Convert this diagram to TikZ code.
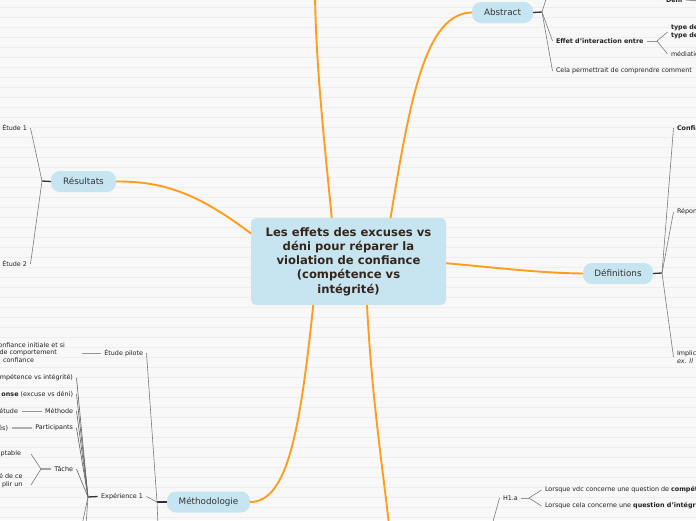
\documentclass[tikz,border=0pt]{standalone}
\usepackage{fontspec}
\setmainfont{DejaVu Sans}
\definecolor{paper}{HTML}{F8F8F8}
\definecolor{ruleline}{HTML}{EEEEEE}
\definecolor{topicblue}{HTML}{C6E5F0}
\definecolor{branchorange}{HTML}{FF9D1C}
\definecolor{titletext}{HTML}{35251A}
\definecolor{topictext}{HTML}{333333}
\definecolor{leaftext}{HTML}{222222}
\definecolor{twiggray}{HTML}{7B7B7B}
\definecolor{stubdark}{HTML}{333333}
\begin{document}
\begin{tikzpicture}[x=1pt,y=-1pt,
  title/.style={fill=topicblue,rounded corners=5pt,inner sep=0pt,outer sep=0pt,
    minimum width=195pt,minimum height=87pt,align=center,text=titletext,
    font=\bfseries\fontsize{11.6}{14.3}\selectfont},
  topic/.style={fill=topicblue,rounded corners=9pt,inner sep=0pt,outer sep=0pt,
    minimum height=21pt,text=topictext,font=\fontsize{8.8}{10}\selectfont},
  leaf/.style={inner sep=0pt,outer sep=3.5pt,text=leaftext,
    font=\fontsize{6.4}{8}\selectfont},
  branch/.style={draw=branchorange,line width=1.9pt},
  twig/.style={draw=twiggray,line width=0.6pt},
  stub/.style={draw=stubdark,line width=1.3pt},
  softstub/.style={draw=twiggray!80,line width=1pt}]
  % background
  \useasboundingbox (0,0) rectangle (696,520);
  \clip (0,0) rectangle (696,520);
  \fill[paper] (0,0) rectangle (696,520);
  \foreach \y in {7,17,...,517}
    \draw[ruleline,line width=0.5pt] (0,\y) -- (696,\y);
  % central topic
  \node[title] (main) at (348.5,261.5) {Les effets des excuses vs\\déni pour réparer la\\violation de confiance\\(compétence vs\\intégrité)};
  % main topics
  \node[topic,minimum width=61pt] (abstract) at (502.5,12.5) {Abstract};
  \node[topic,minimum width=65pt] (resultats) at (83.5,181.5) {Résultats};
  \node[topic,minimum width=70pt] (definitions) at (618,273.5) {Définitions};
  \node[topic,minimum width=83pt] (methodo) at (208.5,502) {Méthodologie};
  % fan points
  \coordinate (absfan) at (542,12);
  \coordinate (absup) at (547,-4);
  \coordinate (effetfan) at (657,41);
  \coordinate (deniup) at (656,-8);
  \coordinate (deffan) at (662,273);
  \coordinate (resfan) at (42,181);
  \coordinate (methfan) at (157,502);
  \coordinate (methdown) at (158,525);
  \coordinate (expfan) at (88,497);
  \coordinate (expdowna) at (82,525);
  \coordinate (expdownb) at (86,525);
  \coordinate (tachefan) at (41,469);
  \coordinate (hfan) at (529,498);
  \coordinate (hup) at (492,525);
  \coordinate (topout) at (315,-5);
  \coordinate (bottomout) at (389,525);
  % leaves of Abstract
  \node[leaf,anchor=west,font=\bfseries\fontsize{6.4}{8}\selectfont] (deni) at (662.5,0) {Déni};
  \node[leaf,anchor=west,font=\bfseries\fontsize{6.4}{8}\selectfont] (effet) at (552.5,41) {Effet d'interaction entre};
  \node[leaf,anchor=west,align=left,font=\bfseries\fontsize{6.4}{8}\selectfont] (typede) at (667.5,32) {type de\\type de};
  \node[leaf,anchor=west] (mediation) at (667.5,54) {médiation};
  \node[leaf,anchor=west] (cela) at (552.5,71) {Cela permettrait de comprendre comment};
  % leaves of Définitions
  \node[leaf,anchor=west,font=\bfseries\fontsize{6.4}{8}\selectfont] (confiance) at (673.5,128) {Confiance};
  \node[leaf,anchor=west] (reponse) at (673.5,212) {Réponse};
  \node[leaf,anchor=west,align=left] (implic) at (673.5,357) {Implications\\\textit{ex. Il}};
  % leaves of Résultats
  \node[leaf,anchor=east] (etude1) at (30.5,128) {Étude 1};
  \node[leaf,anchor=east] (etude2) at (30.5,264) {Étude 2};
  % leaves of Méthodologie
  \node[leaf,anchor=east] (pilote) at (146.5,353) {Étude pilote};
  \node[leaf,anchor=east] (pilotea) at (68.5,345) {onfiance initiale et si};
  \node[leaf,anchor=east] (piloteb) at (60.5,352.5) {de comportement};
  \node[leaf,anchor=east] (pilotec) at (37.5,360) {confiance};
  \node[leaf,anchor=east] (exp1) at (146.5,496.5) {Expérience 1};
  \node[leaf,anchor=east] (compet) at (76.5,378) {mpétence vs intégrité)};
  \node[leaf,anchor=east] (reptxt) at (76.5,394) {\textbf{onse} (excuse vs déni)};
  \node[leaf,anchor=east] (methode) at (76.5,411) {Méthode};
  \node[leaf,anchor=east] (etude) at (21.5,411) {étude};
  \node[leaf,anchor=east] (particip) at (76.5,428) {Participants};
  \node[leaf,anchor=east] (es) at (11.5,428) {és)};
  \node[leaf,anchor=east] (tache) at (76.5,469) {Tâche};
  \node[leaf,anchor=east,outer xsep=10pt] (ptable) at (31,454) {ptable};
  \node[leaf,anchor=east,align=right,outer xsep=8.5pt] (plir) at (31,481) {é de ce\\plir un};
  % bottom right
  \node[leaf,anchor=west] (h1a) at (499.5,498) {H1.a};
  \node[leaf,anchor=west] (vdc) at (541.5,490) {Lorsque vdc concerne une question de \textbf{compétence}};
  \node[leaf,anchor=west] (integ) at (541.5,506) {Lorsque cela concerne une \textbf{question d'intégrité}};
  % branches
  \draw[branch] (main.111) .. controls (322,120) and (316,60) .. (topout);
  \draw[branch] (main.46) .. controls (410,100) and (425,13) .. (abstract.west);
  \draw[branch] (main.164) .. controls (200,195) and (165,181) .. (resultats.east);
  \draw[branch] (main.359) .. controls (500,268) and (540,273) .. (definitions.west);
  \draw[branch] (main.231) .. controls (300,430) and (288,502) .. (methodo.east);
  \draw[branch] (main.293) .. controls (372,400) and (383,470) .. (bottomout);
  % stubs
  \draw[stub] (abstract.east) -- (absfan);
  \draw[stub] (definitions.east) -- (deffan);
  \draw[stub] (resultats.west) -- (resfan);
  \draw[stub] (methodo.west) -- (methfan);
  \draw[stub] (exp1.west) -- (expfan);
  \draw[softstub] (effet.east) -- (effetfan);
  \draw[softstub] (h1a.east) -- (hfan);
  \draw[softstub] (pilote.west) -- (82,353);
  \draw[softstub] (deni.east) -- (700,1);
  \draw[softstub] (methode.west) -- (etude.east);
  \draw[draw=twiggray!60,line width=1.5pt] (particip.west) -- (es.east);
  \draw[draw=twiggray!70,line width=1.5pt] (tache.west) -- (tachefan);
  % twigs
  \draw[twig] (absfan) -- (absup);
  \draw[twig] (absfan) -- (effet.west);
  \draw[twig] (absfan) -- (cela.west);
  \draw[twig] (deniup) -- (deni.west);
  \draw[twig] (effetfan) -- (typede.west);
  \draw[twig] (effetfan) -- (mediation.west);
  \foreach \leafname in {confiance,reponse,implic}
    \draw[twig] (deffan) -- (\leafname.west);
  \foreach \leafname in {etude1,etude2}
    \draw[twig] (resfan) -- (\leafname.east);
  \draw[twig] (methfan) -- (pilote.east);
  \draw[twig] (methfan) -- (exp1.east);
  \draw[twig] (methfan) -- (methdown);
  \foreach \leafname in {compet,reptxt,methode,particip,tache}
    \draw[twig,draw=twiggray!80!black] (expfan) -- (\leafname.east);
  \draw[twig] (expfan) -- (expdowna);
  \draw[twig] (expfan) -- (expdownb);
  \draw[twig] (tachefan) -- (ptable.east);
  \draw[twig] (tachefan) -- ([yshift=-4pt]plir.east);
  \draw[twig] (h1a.west) -- (hup);
  \draw[twig] (hfan) -- (vdc.west);
  \draw[twig] (hfan) -- (integ.west);
\end{tikzpicture}
\end{document}
